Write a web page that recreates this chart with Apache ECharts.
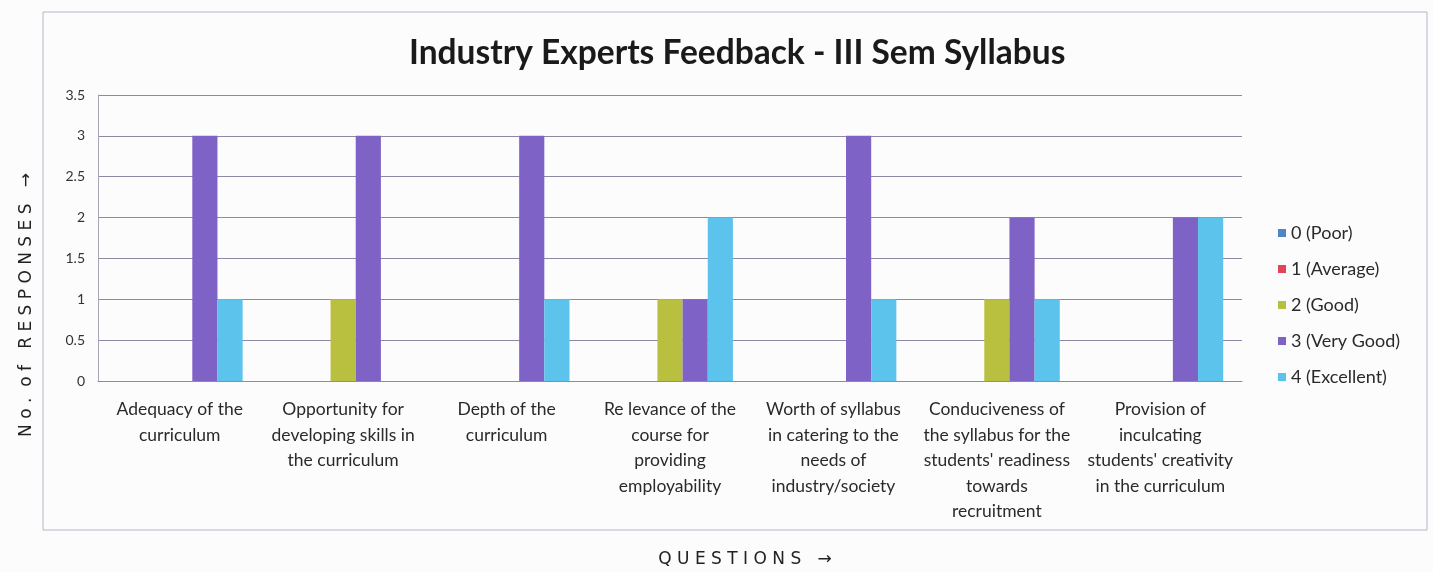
<!DOCTYPE html>
<html><head><meta charset="utf-8">
<script src="https://cdn.jsdelivr.net/npm/echarts@6/dist/echarts.min.js"></script>
<style>html,body{margin:0;padding:0;background:#fdfcfd;}#c{width:1433px;height:572px;}</style>
</head><body><div id="c"></div>
<script>
const categories = [
  "Adequacy of the\ncurriculum",
  "Opportunity for\ndeveloping skills in\nthe curriculum",
  "Depth of the\ncurriculum",
  "Re levance of the\ncourse for\nproviding\nemployability",
  "Worth of syllabus\nin catering to the\nneeds of\nindustry/society",
  "Conduciveness of\nthe syllabus for the\nstudents' readiness\ntowards\nrecruitment",
  "Provision of\ninculcating\nstudents' creativity\nin the curriculum"
];
const seriesNames = ["0 (Poor)", "1 (Average)", "2 (Good)", "3 (Very Good)", "4 (Excellent)"];
const poor      = [0, 0, 0, 0, 0, 0, 0];
const average   = [0, 0, 0, 0, 0, 0, 0];
const good      = [0, 1, 0, 1, 0, 1, 0];
const veryGood  = [3, 3, 3, 1, 3, 2, 2];
const excellent = [1, 0, 1, 2, 1, 1, 2];
const colors = ["#4d86c6", "#e0465a", "#b9c040", "#7f62c6", "#5cc4ec"];

const chart = echarts.init(document.getElementById('c'));
const seriesData = [poor, average, good, veryGood, excellent];
chart.setOption({
  backgroundColor: '#fdfcfd',
  animation: false,
  textStyle: { fontFamily: 'Lato' },
  title: {
    text: 'Industry Experts Feedback - III Sem Syllabus',
    left: 404, top: 31,
    textStyle: { fontFamily: 'Lato', fontSize: 33.5, fontWeight: 'bold', color: '#1a1a1a' }
  },
  legend: {
    orient: 'vertical', left: 1273, top: 218, itemGap: 16,
    itemWidth: 8, itemHeight: 8, icon: 'rect',
    textStyle: { fontFamily: 'Lato', fontSize: 18, lineHeight: 20, color: '#2a2a2a' },
    data: seriesNames
  },
  grid: { left: 98, top: 95, width: 1144, height: 286, containLabel: false },
  xAxis: {
    type: 'category', data: categories,
    axisLine: { show: true, lineStyle: { color: '#8f8aa0' } },
    axisTick: { show: false },
    axisLabel: { interval: 0, fontFamily: 'Lato', fontSize: 17.5, lineHeight: 25.5, color: '#2a2a2a', margin: 16 }
  },
  yAxis: {
    type: 'value', min: 0, max: 3.5, interval: 0.5,
    axisLine: { show: true, lineStyle: { color: '#a9a4b8' } },
    axisTick: { show: false },
    splitLine: { lineStyle: { color: '#8f88a4', width: 1 } },
    axisLabel: { fontFamily: 'Lato', fontSize: 14, color: '#333', margin: 13 }
  },
  series: seriesNames.map((n, i) => ({
    name: n, type: 'bar', data: seriesData[i],
    barGap: '0%', barCategoryGap: '23%',
    itemStyle: { color: colors[i] }
  })),
  graphic: [
    { type: 'rect', shape: { x: 43, y: 12, width: 1384, height: 518 },
      style: { fill: null, stroke: '#b8b4c4', lineWidth: 1 } },
    { type: 'text', x: 27, y: 305, rotation: Math.PI / 2,
      style: { text: 'N o .  o f   R E S P O N S E S   →', fill: '#222', font: '17px "DejaVu Sans"', textAlign: 'center', textVerticalAlign: 'middle' } },
    { type: 'text', x: 745, y: 560,
      style: { text: 'Q U E S T I O N S   →', fill: '#222', font: '17px "DejaVu Sans"', textAlign: 'center', textVerticalAlign: 'middle' } }
  ]
});
</script></body></html>
